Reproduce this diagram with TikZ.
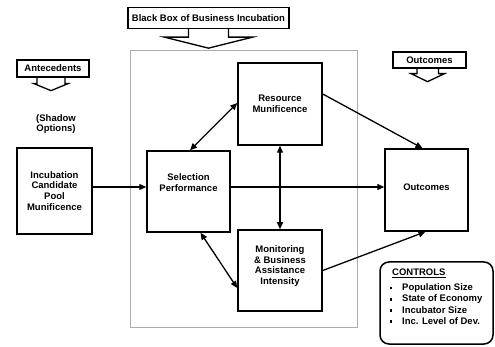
\documentclass[tikz,border=0pt]{standalone}
\usepackage{fontspec}
\setmainfont{Liberation Sans}
\usetikzlibrary{arrows.meta,calc}
\begin{document}
\begin{tikzpicture}[x=1pt,y=-1pt,
  every node/.style={font=\fontsize{9.5}{10.8}\selectfont\bfseries, align=center, inner sep=0pt},
  blk/.style={draw, line width=1.5pt},
  arr/.style={line width=1.3pt, -{Triangle[length=7pt,width=6pt]}},
  darr/.style={line width=1.3pt, {Triangle[length=7pt,width=6pt]}-{Triangle[length=7pt,width=6pt]}},
  lbl/.style={draw, line width=1.3pt},
  barr/.style={line width=1.3pt, line join=miter},
  bul/.style={anchor=center, inner sep=0pt},
  ctext/.style={anchor=west}
]
\useasboundingbox (0,0) rectangle (495,347);
% black box frame
\node[draw=gray!65, line width=0.8pt, minimum width=227pt, minimum height=277pt] (frame) at (243.5,188.5) {};
% main boxes
\node[blk, minimum width=75pt, minimum height=86pt] (inc) at (54.5,191) {Incubation\\Candidate\\Pool\\Munificence};
\node[blk, minimum width=83pt, minimum height=81pt] (sel) at (188.5,191.5) {};
\node (seltxt) at (188.5,182.5) {Selection\\Performance};
\node[blk, minimum width=84pt, minimum height=82pt] (res) at (280,104) {Resource\\Munificence};
\node[blk, minimum width=84pt, minimum height=81pt] (mon) at (280,270.5) {};
\node (montxt) at (280,266) {Monitoring\\\& Business\\Assistance\\Intensity};
\node[blk, minimum width=83pt, minimum height=82pt] (out) at (426.5,190) {};
\node (outtxt) at (426.5,187) {Outcomes};
\node (shadow) at (56,124) {(Shadow\\Options)};
% labels with block arrows
\node[lbl, minimum width=161pt, minimum height=21pt] (bb) at (208.5,18) {Black Box of Business Incubation};
\draw[barr] ($(bb.south)+(-20,0)$) -- ++(0,8) -- ++(-24,0) -- ($(bb.south)+(0,19)$) -- ($(bb.south)+(44,8)$) -- ++(-24,0) -- ++(0,-8);
\node[lbl, minimum width=72pt, minimum height=17pt] (ant) at (53,68.5) {Antecedents};
\draw[barr] ($(ant.south)+(-16,0)$) -- ++(0,6) -- ++(-3,0) -- ($(ant.south)+(-2,13)$) -- ($(ant.south)+(15,6)$) -- ++(-3,0) -- ++(0,-6);
\node[lbl, minimum width=73pt, minimum height=16pt] (oc) at (429.5,60) {Outcomes};
\draw[barr] ($(oc.south)+(-12.5,0)$) -- ++(0,5) -- ++(-6,0) -- ($(oc.south)+(-2,13)$) -- ($(oc.south)+(15,5)$) -- ++(-6,0) -- ++(0,-5);
% connectors
\draw[arr] ([yshift=4pt]inc.east) -- ([yshift=4.5pt]sel.west);
\draw[arr] ([yshift=4.5pt]sel.east) -- ([yshift=3pt]out.west);
\draw[darr] ([xshift=1.5pt]sel.north) -- ([yshift=1pt]res.west);
\draw[darr] ([xshift=12pt]sel.south) -- ([yshift=-17.5pt]mon.west);
\draw[darr] (res.south) -- (mon.north);
\draw[arr] ([yshift=10pt]res.east) -- ([xshift=-4pt]out.north);
\draw[arr] (mon.east) -- ([xshift=-1pt]out.south);
% controls
\node[draw, line width=1.5pt, rounded corners=9pt, minimum width=113pt, minimum height=82pt] (ctrl) at (436.5,303) {};
\node[ctext] (ct) at (392,273) {\underline{CONTROLS}};
\node[bul] (b1) at (391,288.5) {\rule{2pt}{2pt}};
\node[bul] (b2) at (391,299.5) {\rule{2pt}{2pt}};
\node[bul] (b3) at (391,310.5) {\rule{2pt}{2pt}};
\node[bul] (b4) at (391,321.5) {\rule{2pt}{2pt}};
\node[ctext] (c1) at (402,288.5) {Population Size};
\node[ctext] (c2) at (402,299.5) {State of Economy};
\node[ctext] (c3) at (402,310.5) {Incubator Size};
\node[ctext] (c4) at (402,321.5) {Inc. Level of Dev.};
\end{tikzpicture}
\end{document}
